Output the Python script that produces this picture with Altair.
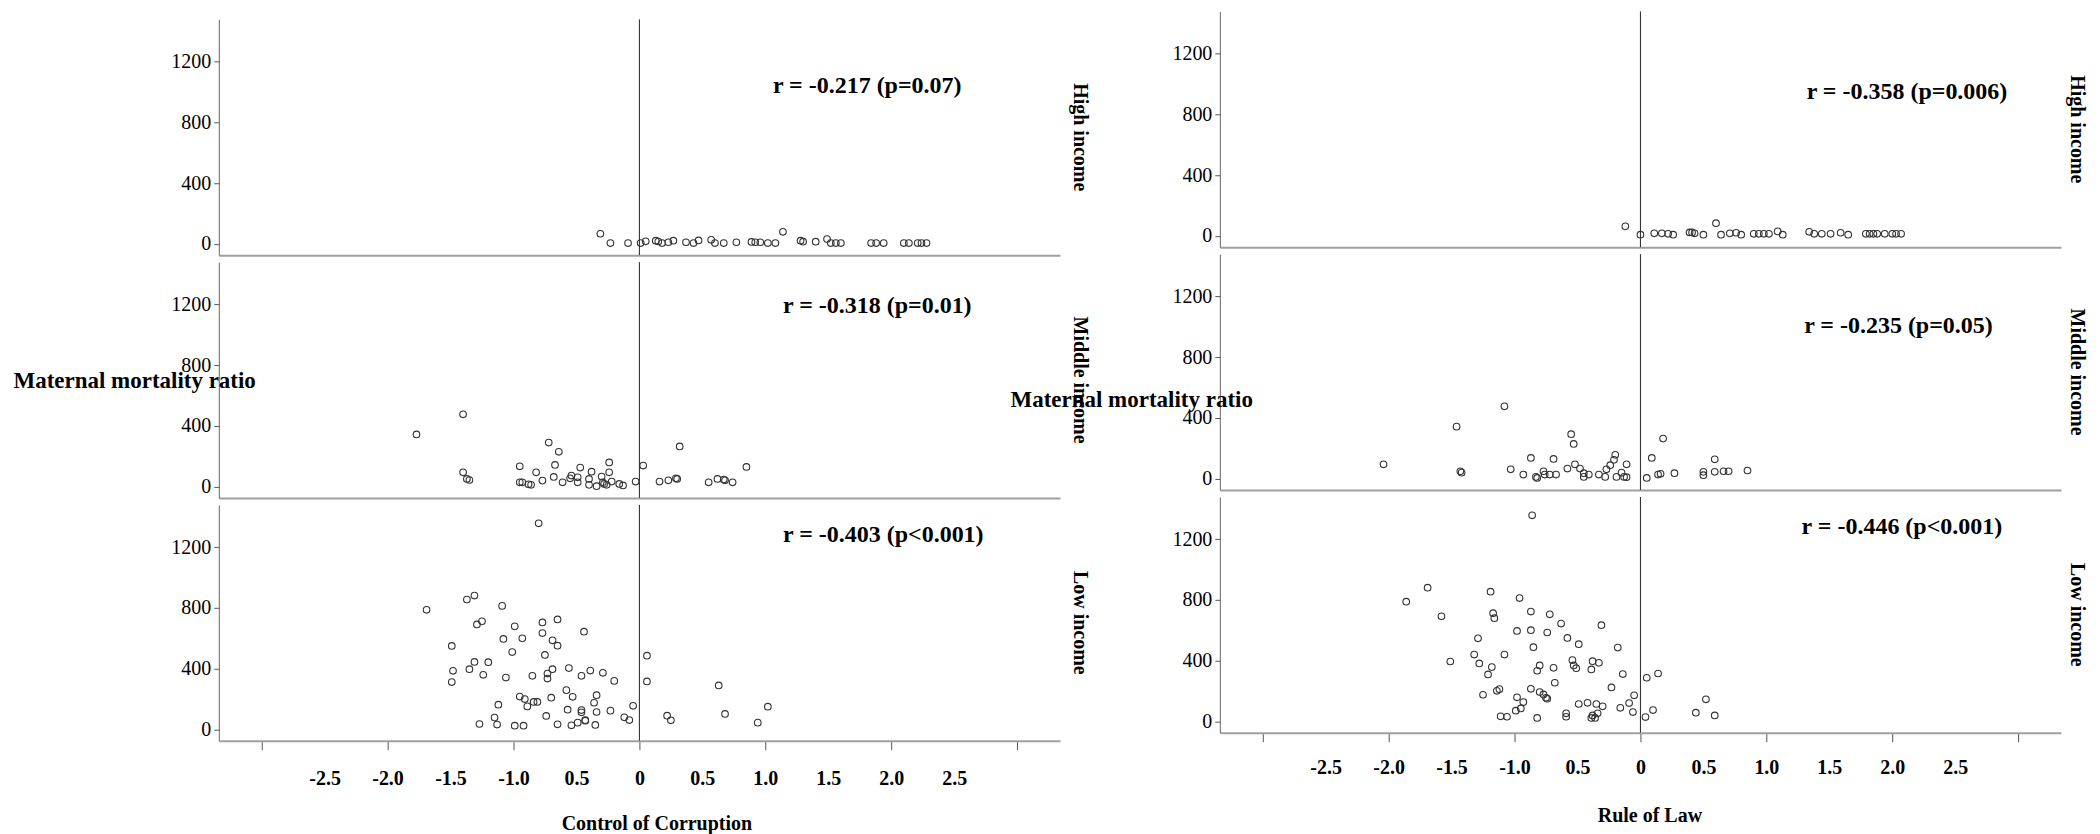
import altair as alt
import pandas as pd

SERIF = "Liberation Serif"

# ---------------- data ----------------
# Control of Corruption
cc_high_x = [-0.31,-0.23,-0.09,0.01,0.05,0.13,0.15,0.18,0.23,0.27,0.37,0.43,0.47,0.57,0.60,0.67,0.77,0.89,0.92,0.96,
             1.02,1.08,1.14,1.28,1.30,1.40,1.49,1.52,1.56,1.60,1.84,1.88,1.94,2.10,2.14,2.21,2.24,2.28]
cc_high_y = [66,5,5,5,16,20,15,5,10,20,10,5,22,26,5,5,10,12,10,10,
             5,5,79,20,14,14,31,5,5,5,5,5,5,5,5,5,5,5]

cc_mid_x = [-1.77,-1.40,-1.40,-1.37,-1.35,-0.95,-0.95,-0.93,-0.88,-0.86,-0.82,-0.77,-0.72,-0.67,-0.64,-0.68,
            -0.61,-0.55,-0.54,-0.49,-0.47,-0.49,-0.40,-0.38,-0.40,-0.34,-0.30,-0.29,-0.26,-0.24,-0.24,-0.22,
            -0.28,-0.16,-0.13,-0.03,0.03,0.16,0.23,0.29,0.30,0.32,0.55,0.62,0.67,0.68,0.74,0.85]
cc_mid_y = [343,476,94,50,43,133,28,28,15,11,94,39,290,142,229,63,
            28,54,72,61,125,28,50,98,11,2,66,28,11,159,94,33,
            17,17,7,33,138,33,41,54,50,264,28,50,46,41,28,129]

cc_low_x = [-0.80,-1.69,-1.37,-1.31,-1.09,-1.29,-1.25,-0.99,-0.77,-0.65,-0.77,-0.44,-1.08,-0.93,-0.69,-0.65,
            -1.49,-1.01,-0.75,0.06,-1.31,-1.20,-1.35,-1.48,-1.24,-1.06,-0.85,-0.73,-0.73,-0.69,-0.56,-0.46,
            -0.39,-0.29,-0.20,-1.49,0.06,0.63,-0.58,-0.53,-0.34,-0.95,-0.91,-0.89,-0.84,-0.81,-0.70,-0.36,
            -1.12,-0.57,-0.46,-0.46,-0.34,-0.23,-0.05,-1.15,-0.74,-0.43,-0.43,-0.49,-0.12,-0.08,0.22,0.25,
            0.68,1.02,0.94,-1.27,-1.13,-0.99,-0.92,-0.65,-0.54,-0.35]
cc_low_y = [1357,787,855,881,813,691,711,678,704,724,634,643,595,599,586,551,
            549,509,490,485,444,442,396,385,359,341,352,367,334,396,403,352,
            387,372,319,311,315,289,258,214,225,216,199,151,180,180,208,175,
            162,129,127,112,114,123,155,77,88,57,60,44,79,61,90,59,
            101,149,44,35,31,24,24,33,26,29]

# Rule of Law
rl_high_x = [-0.12,0.00,0.11,0.17,0.22,0.26,0.39,0.41,0.43,0.50,0.60,0.64,0.71,0.76,0.80,0.90,0.94,0.98,
             1.02,1.09,1.13,1.34,1.38,1.44,1.51,1.59,1.65,1.79,1.82,1.85,1.88,1.94,2.00,2.03,2.07]
rl_high_y = [62,7,16,16,13,7,22,22,16,7,83,7,16,20,7,13,13,13,
             13,29,7,26,13,13,13,20,7,13,13,13,13,13,13,13,13]

rl_mid_x = [-2.04,-1.46,-1.43,-1.42,-1.08,-1.03,-0.93,-0.87,-0.83,-0.82,-0.77,-0.76,-0.72,-0.69,-0.67,-0.58,
            -0.55,-0.53,-0.52,-0.48,-0.45,-0.45,-0.41,-0.33,-0.28,-0.27,-0.24,-0.21,-0.20,-0.19,-0.15,-0.13,
            -0.11,-0.11,0.05,0.09,0.14,0.16,0.18,0.27,0.50,0.50,0.59,0.59,0.66,0.70,0.85]
rl_mid_y = [94,342,48,39,476,61,26,136,11,4,48,26,26,129,26,66,
            292,228,94,66,35,11,26,26,11,61,88,123,156,11,39,11,
            94,9,4,136,26,31,263,35,44,22,127,44,48,48,53]

rl_low_x = [-0.86,-1.86,-1.69,-1.58,-1.19,-0.96,-1.17,-1.16,-0.87,-0.72,-0.63,-0.31,-1.29,-0.98,-0.87,-0.74,
            -0.58,-0.49,-0.18,-0.85,-1.51,-1.32,-1.28,-1.18,-1.21,-1.08,-0.80,-0.82,-0.69,-0.54,-0.53,-0.51,
            -0.38,-0.33,-0.39,-0.14,0.05,0.14,-0.68,-0.23,-1.25,-1.14,-1.12,-0.98,-0.93,-0.95,-0.99,-0.87,
            -0.80,-0.77,-0.75,-0.74,-0.49,-0.42,-0.35,-0.30,-0.34,-0.16,-0.09,-0.05,-0.06,0.04,0.10,0.44,
            0.52,0.59,-1.11,-1.06,-0.82,-0.59,-0.59,-0.39,-0.38,-0.36]
rl_low_y = [1357,788,880,692,854,812,712,679,723,705,644,633,547,595,600,585,
            549,508,486,488,394,440,381,357,309,440,368,333,352,403,368,350,
            396,385,342,311,287,315,254,223,175,201,212,158,127,85,70,214,
            193,177,155,149,114,122,114,99,53,89,120,171,61,28,74,57,
            145,39,33,30,22,30,53,22,39,22]

row_labels = ["High income", "Middle income", "Low income"]
cc_r_text = ["r = -0.217 (p=0.07)", "r = -0.318 (p=0.01)", "r = -0.403 (p<0.001)"]
cc_r_pos = [(1.06, 1038), (1.14, 1187), (1.14, 1277)]
rl_r_text = ["r = -0.358 (p=0.006)", "r = -0.235 (p=0.05)", "r = -0.446 (p<0.001)"]
rl_r_pos = [(1.32, 949), (1.30, 1005), (1.28, 1277)]

x_tick_values = [-3, -2.5, -2, -1.5, -1, -0.5, 0, 0.5, 1, 1.5, 2, 2.5, 3]
y_tick_values = [0, 400, 800, 1200]
x_domain = [-3.34, 3.34]
y_domain = [-75, 1478]

W, H = 842, 236

LABEL_EXPR = ("abs(datum.value) > 2.6 ? '' : (datum.value === 0 ? '0' : "
              "(datum.value === -0.5 ? '0.5' : (datum.value < 0 ? '-' : '') + format(abs(datum.value), '.1f')))")


def panel(xs, ys, rtext, rpos, row_label, row_offset, bottom=False, xtitle=None, xtitle_x=0,
          label_pad=18, ytitle=None, ytitle_x=0, ytitle_y=0):
    df = pd.DataFrame({"x": xs, "y": ys})
    if bottom:
        xaxis = alt.Axis(values=x_tick_values, tickSize=9, tickColor="#555555", tickWidth=1,
                         tickOpacity={"condition": {"test": "datum.value % 1 === 0", "value": 1}, "value": 0},
                         labelExpr=LABEL_EXPR, labelFont=SERIF, labelFontSize=20, labelFontWeight="bold",
                         labelColor="black", labelPadding=label_pad, labelFlush=False, labelOverlap=False,
                         domainColor="#a0a0a0", domainWidth=2, grid=False,
                         title=xtitle, titleFont=SERIF, titleFontSize=20, titleFontWeight="bold",
                         titleColor="black", titleX=xtitle_x, titleY=83, titleBaseline="middle",
                         titleAlign="center")
    else:
        xaxis = alt.Axis(ticks=False, labels=False, domainColor="#a0a0a0", domainWidth=2,
                         grid=False, title=None)
    yargs = dict(values=y_tick_values, format="d", tickSize=5, tickColor="#555555",
                 domainColor="#666666", labelFont=SERIF, labelFontSize=20, labelColor="black",
                 labelPadding=3, grid=False)
    if ytitle:
        yaxis = alt.Axis(title=ytitle, titleAngle=0, titleAlign="left", titleBaseline="middle",
                         titleX=ytitle_x, titleY=ytitle_y, titleFont=SERIF, titleFontSize=23,
                         titleFontWeight="bold", titleColor="black", **yargs)
    else:
        yaxis = alt.Axis(title=None, **yargs)

    xenc = alt.X("x:Q", scale=alt.Scale(domain=x_domain, nice=False, zero=False), axis=xaxis)
    yenc = alt.Y("y:Q", scale=alt.Scale(domain=y_domain, nice=False, zero=False), axis=yaxis)

    zero = alt.Chart(pd.DataFrame({"x": [0]})).mark_rule(color="#222222", strokeWidth=1).encode(x=xenc)
    pts = alt.Chart(df).mark_point(shape="circle", filled=False, size=44, color="#333333",
                                   strokeWidth=1.1, opacity=1).encode(x=xenc, y=yenc)
    rdf = pd.DataFrame({"x": [rpos[0]], "y": [rpos[1]], "t": [rtext]})
    txt = alt.Chart(rdf).mark_text(align="left", baseline="middle", font=SERIF, fontWeight="bold",
                                   fontSize=24, color="black").encode(x=xenc, y=yenc, text="t:N")
    return alt.layer(zero, pts, txt).properties(
        width=W, height=H,
        title=alt.TitleParams(row_label, orient="right", anchor="middle", font=SERIF, fontSize=20,
                              fontWeight="bold", color="black", offset=row_offset, baseline="middle"))


spacer = alt.Chart(pd.DataFrame({"v": [0]})).mark_point(opacity=0).encode(
    x=alt.value(0), y=alt.value(0)).properties(width=W, height=1)

left_panels = []
cc_data = [(cc_high_x, cc_high_y), (cc_mid_x, cc_mid_y), (cc_low_x, cc_low_y)]
for i in range(3):
    left_panels.append(panel(cc_data[i][0], cc_data[i][1], cc_r_text[i], cc_r_pos[i], row_labels[i], 0,
                             bottom=(i == 2), xtitle="Control of Corruption", xtitle_x=438, label_pad=19,
                             ytitle="Maternal mortality ratio" if i == 1 else None,
                             ytitle_x=-206, ytitle_y=118))

right_panels = []
rl_data = [(rl_high_x, rl_high_y), (rl_mid_x, rl_mid_y), (rl_low_x, rl_low_y)]
for i in range(3):
    right_panels.append(panel(rl_data[i][0], rl_data[i][1], rl_r_text[i], rl_r_pos[i], row_labels[i], -4,
                              bottom=(i == 2), xtitle="Rule of Law", xtitle_x=430, label_pad=16,
                              ytitle="Maternal mortality ratio" if i == 1 else None,
                              ytitle_x=-210, ytitle_y=145))

left_col = alt.vconcat(spacer, *left_panels, spacing=7, bounds="flush")
right_col = alt.vconcat(*right_panels, spacing=7, bounds="flush")

chart = alt.hconcat(left_col, right_col, spacing=-80).properties(
    padding={"left": 5, "top": 0, "right": 5, "bottom": 0},
    background="white",
).configure_view(stroke=None)

chart.save("out.html", embed_options={"renderer": "svg", "actions": False})
